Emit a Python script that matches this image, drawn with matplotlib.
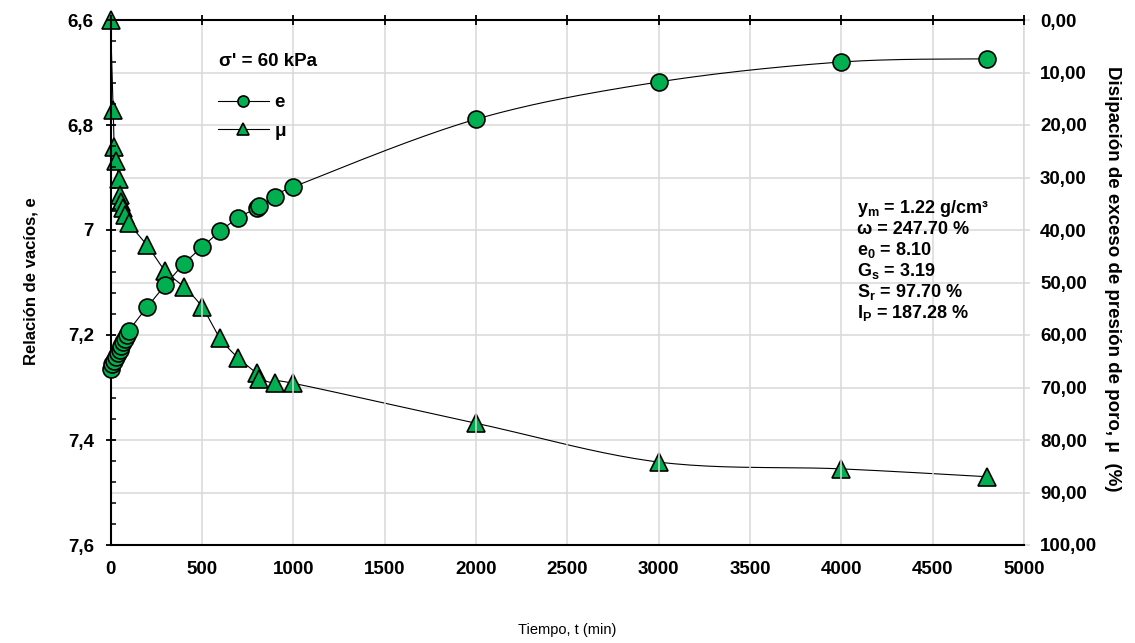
import matplotlib
matplotlib.use("Agg")
import matplotlib.pyplot as plt
import numpy as np
from matplotlib.lines import Line2D
from matplotlib.ticker import MultipleLocator, FuncFormatter

plt.rcParams['font.family'] = ['Liberation Sans', 'DejaVu Sans']
plt.rcParams['mathtext.fontset'] = 'custom'
plt.rcParams['mathtext.bf'] = 'Liberation Sans:bold'
plt.rcParams['mathtext.rm'] = 'Liberation Sans:bold'
plt.rcParams['mathtext.default'] = 'bf'

# Void ratio e versus elapsed time
t_e = [0, 10, 20, 30, 40, 50, 60, 70, 80, 90, 100, 200, 300, 400, 500, 600,
       700, 800, 815, 900, 1000, 2000, 3000, 4000, 4800]
e_vals = [7.264, 7.256, 7.249, 7.242, 7.235, 7.228, 7.221, 7.214, 7.207, 7.200,
          7.192, 7.147, 7.105, 7.065, 7.033, 7.002, 6.977, 6.958, 6.954, 6.937,
          6.918, 6.789, 6.718, 6.680, 6.674]

# Excess pore pressure dissipation (%) versus elapsed time
t_mu = [0, 15, 20, 30, 45, 50, 60, 70, 80, 100, 200, 300, 400, 500, 600, 700,
        800, 815, 900, 1000, 2000, 3000, 4000, 4800]
mu_vals = [0.0, 17.1, 24.1, 26.9, 30.2, 33.3, 34.6, 35.9, 37.1, 38.7, 42.9, 47.8,
           50.8, 54.6, 60.6, 64.4, 67.3, 68.3, 69.2, 69.2, 76.8, 84.2, 85.5, 87.0]

sample_props = ["y$_m$ = 1.22 g/cm³", "ω = 247.70 %", "e$_0$ = 8.10",
                "G$_s$ = 3.19", "S$_r$ = 97.70 %", "I$_P$ = 187.28 %"]

GREEN = "#00B050"
GRID = "#D9D9D9"
FS = 13.5

W, H = 1135, 643
fig = plt.figure(figsize=(W / 100, H / 100), dpi=100)
x0, x1, y0, y1 = 110.5, 1024, 20, 545
ax = fig.add_axes([x0 / W, 1 - y1 / H, (x1 - x0) / W, (y1 - y0) / H])
ax2 = ax.twinx()

ax.set_xlim(0, 5000)
ax.set_ylim(7.6, 6.6)
ax2.set_ylim(100, 0)

ax.xaxis.set_major_locator(MultipleLocator(500))
ax.yaxis.set_major_locator(MultipleLocator(0.2))
ax.yaxis.set_minor_locator(MultipleLocator(0.04))
ax2.yaxis.set_major_locator(MultipleLocator(10))

ax.yaxis.set_major_formatter(FuncFormatter(lambda v, p: ("%g" % round(v, 2)).replace(".", ",")))
ax2.yaxis.set_major_formatter(FuncFormatter(lambda v, p: ("%.2f" % v).replace(".", ",")))

# grid: verticals every 500, horizontals every 10 % on the right scale
ax.set_axisbelow(True)
ax2.set_axisbelow(True)
ax.grid(True, axis='x', color=GRID, lw=1.1)
ax2.grid(True, axis='y', color=GRID, lw=1.1)
ax.set_zorder(2)
ax.patch.set_visible(False)
ax2.set_zorder(1)

for sp in ('left', 'bottom', 'top'):
    ax.spines[sp].set_linewidth(1.5)
    ax.spines[sp].set_color('black')
ax.spines['right'].set_visible(False)
for sp in ('left', 'bottom', 'top'):
    ax2.spines[sp].set_visible(False)
ax2.spines['right'].set_color(GRID)
ax2.spines['right'].set_linewidth(1.1)

ax.tick_params(axis='y', which='major', direction='inout', length=7, width=1.3, pad=8.5)
ax.tick_params(axis='y', which='minor', direction='in', length=3.5, width=1.1)
ax.tick_params(axis='x', which='major', bottom=True, top=True, direction='inout',
               length=7, width=1.3, pad=8)
ax.tick_params(axis='x', which='major', bottom=False)
ax2.tick_params(axis='y', which='major', direction='out', length=4.5, width=1.1,
                color=GRID, pad=7)
for lab in ax.get_xticklabels() + ax.get_yticklabels() + ax2.get_yticklabels():
    lab.set_fontsize(FS)
    lab.set_fontweight('bold')


def smooth_line(axis, xs, ys, steps=24):
    """Catmull-Rom curve through the points, built in screen space."""
    pts = axis.transData.transform(np.column_stack([xs, ys]))
    ext = np.vstack([pts[0], pts, pts[-1]])
    out = []
    for i in range(len(pts) - 1):
        p0, p1, p2, p3 = ext[i], ext[i + 1], ext[i + 2], ext[i + 3]
        c1 = p1 + (p2 - p0) / 6.0
        c2 = p2 - (p3 - p1) / 6.0
        s = np.linspace(0, 1, steps)[:, None]
        seg = ((1 - s) ** 3) * p1 + 3 * ((1 - s) ** 2) * s * c1 \
            + 3 * (1 - s) * s ** 2 * c2 + s ** 3 * p2
        out.append(seg if i == 0 else seg[1:])
    curve = axis.transData.inverted().transform(np.vstack(out))
    axis.plot(curve[:, 0], curve[:, 1], color='black', lw=0.8, zorder=2.5,
              clip_on=False)


smooth_line(ax, t_e, e_vals)
ax.plot(t_e, e_vals, linestyle='none', marker='o', ms=12.2,
        markerfacecolor=GREEN, markeredgecolor='black', markeredgewidth=1.2,
        zorder=3, clip_on=False)
smooth_line(ax2, t_mu, mu_vals)
ax2.plot(t_mu, mu_vals, linestyle='none', marker='^', ms=12.5,
         markerfacecolor=GREEN, markeredgecolor='black', markeredgewidth=1.2,
         zorder=3, clip_on=False)

handles = [Line2D([], [], color='black', lw=0.8, marker='o', ms=8,
                  markerfacecolor=GREEN, markeredgecolor='black', markeredgewidth=1.2),
           Line2D([], [], color='black', lw=0.8, marker='^', ms=8.5,
                  markerfacecolor=GREEN, markeredgecolor='black', markeredgewidth=1.2)]
leg = ax.legend(handles, ['e', 'μ'], loc='upper left',
                bbox_to_anchor=(218 / W, 1 - 94 / H), bbox_transform=fig.transFigure,
                frameon=False, borderpad=0, borderaxespad=0, handlelength=2.7,
                handletextpad=0.32, labelspacing=0.6,
                prop=dict(size=FS, weight='bold'))

fig.text(268 / W, 1 - 62 / H, "σ' = 60 kPa", ha='center', va='center',
         fontsize=FS, fontweight='bold')

for i, line in enumerate(sample_props):
    fig.text(857 / W, 1 - (208 + 21 * i) / H, line, ha='left', va='center',
             fontsize=13, fontweight='bold')

fig.text(31 / W, 1 - 281 / H, "Relación de vacíos, e", rotation=90,
         ha='center', va='center', fontsize=12, fontweight='bold')
fig.text(1113 / W, 1 - 279 / H, "Disipación de exceso de presión de poro, μ  (%)",
         rotation=270, ha='center', va='center', fontsize=FS, fontweight='bold')
fig.text(567 / W, 1 - 630 / H, "Tiempo, t (min)", ha='center', va='center',
         fontsize=10.5)

fig.savefig("out.png", dpi=100)
